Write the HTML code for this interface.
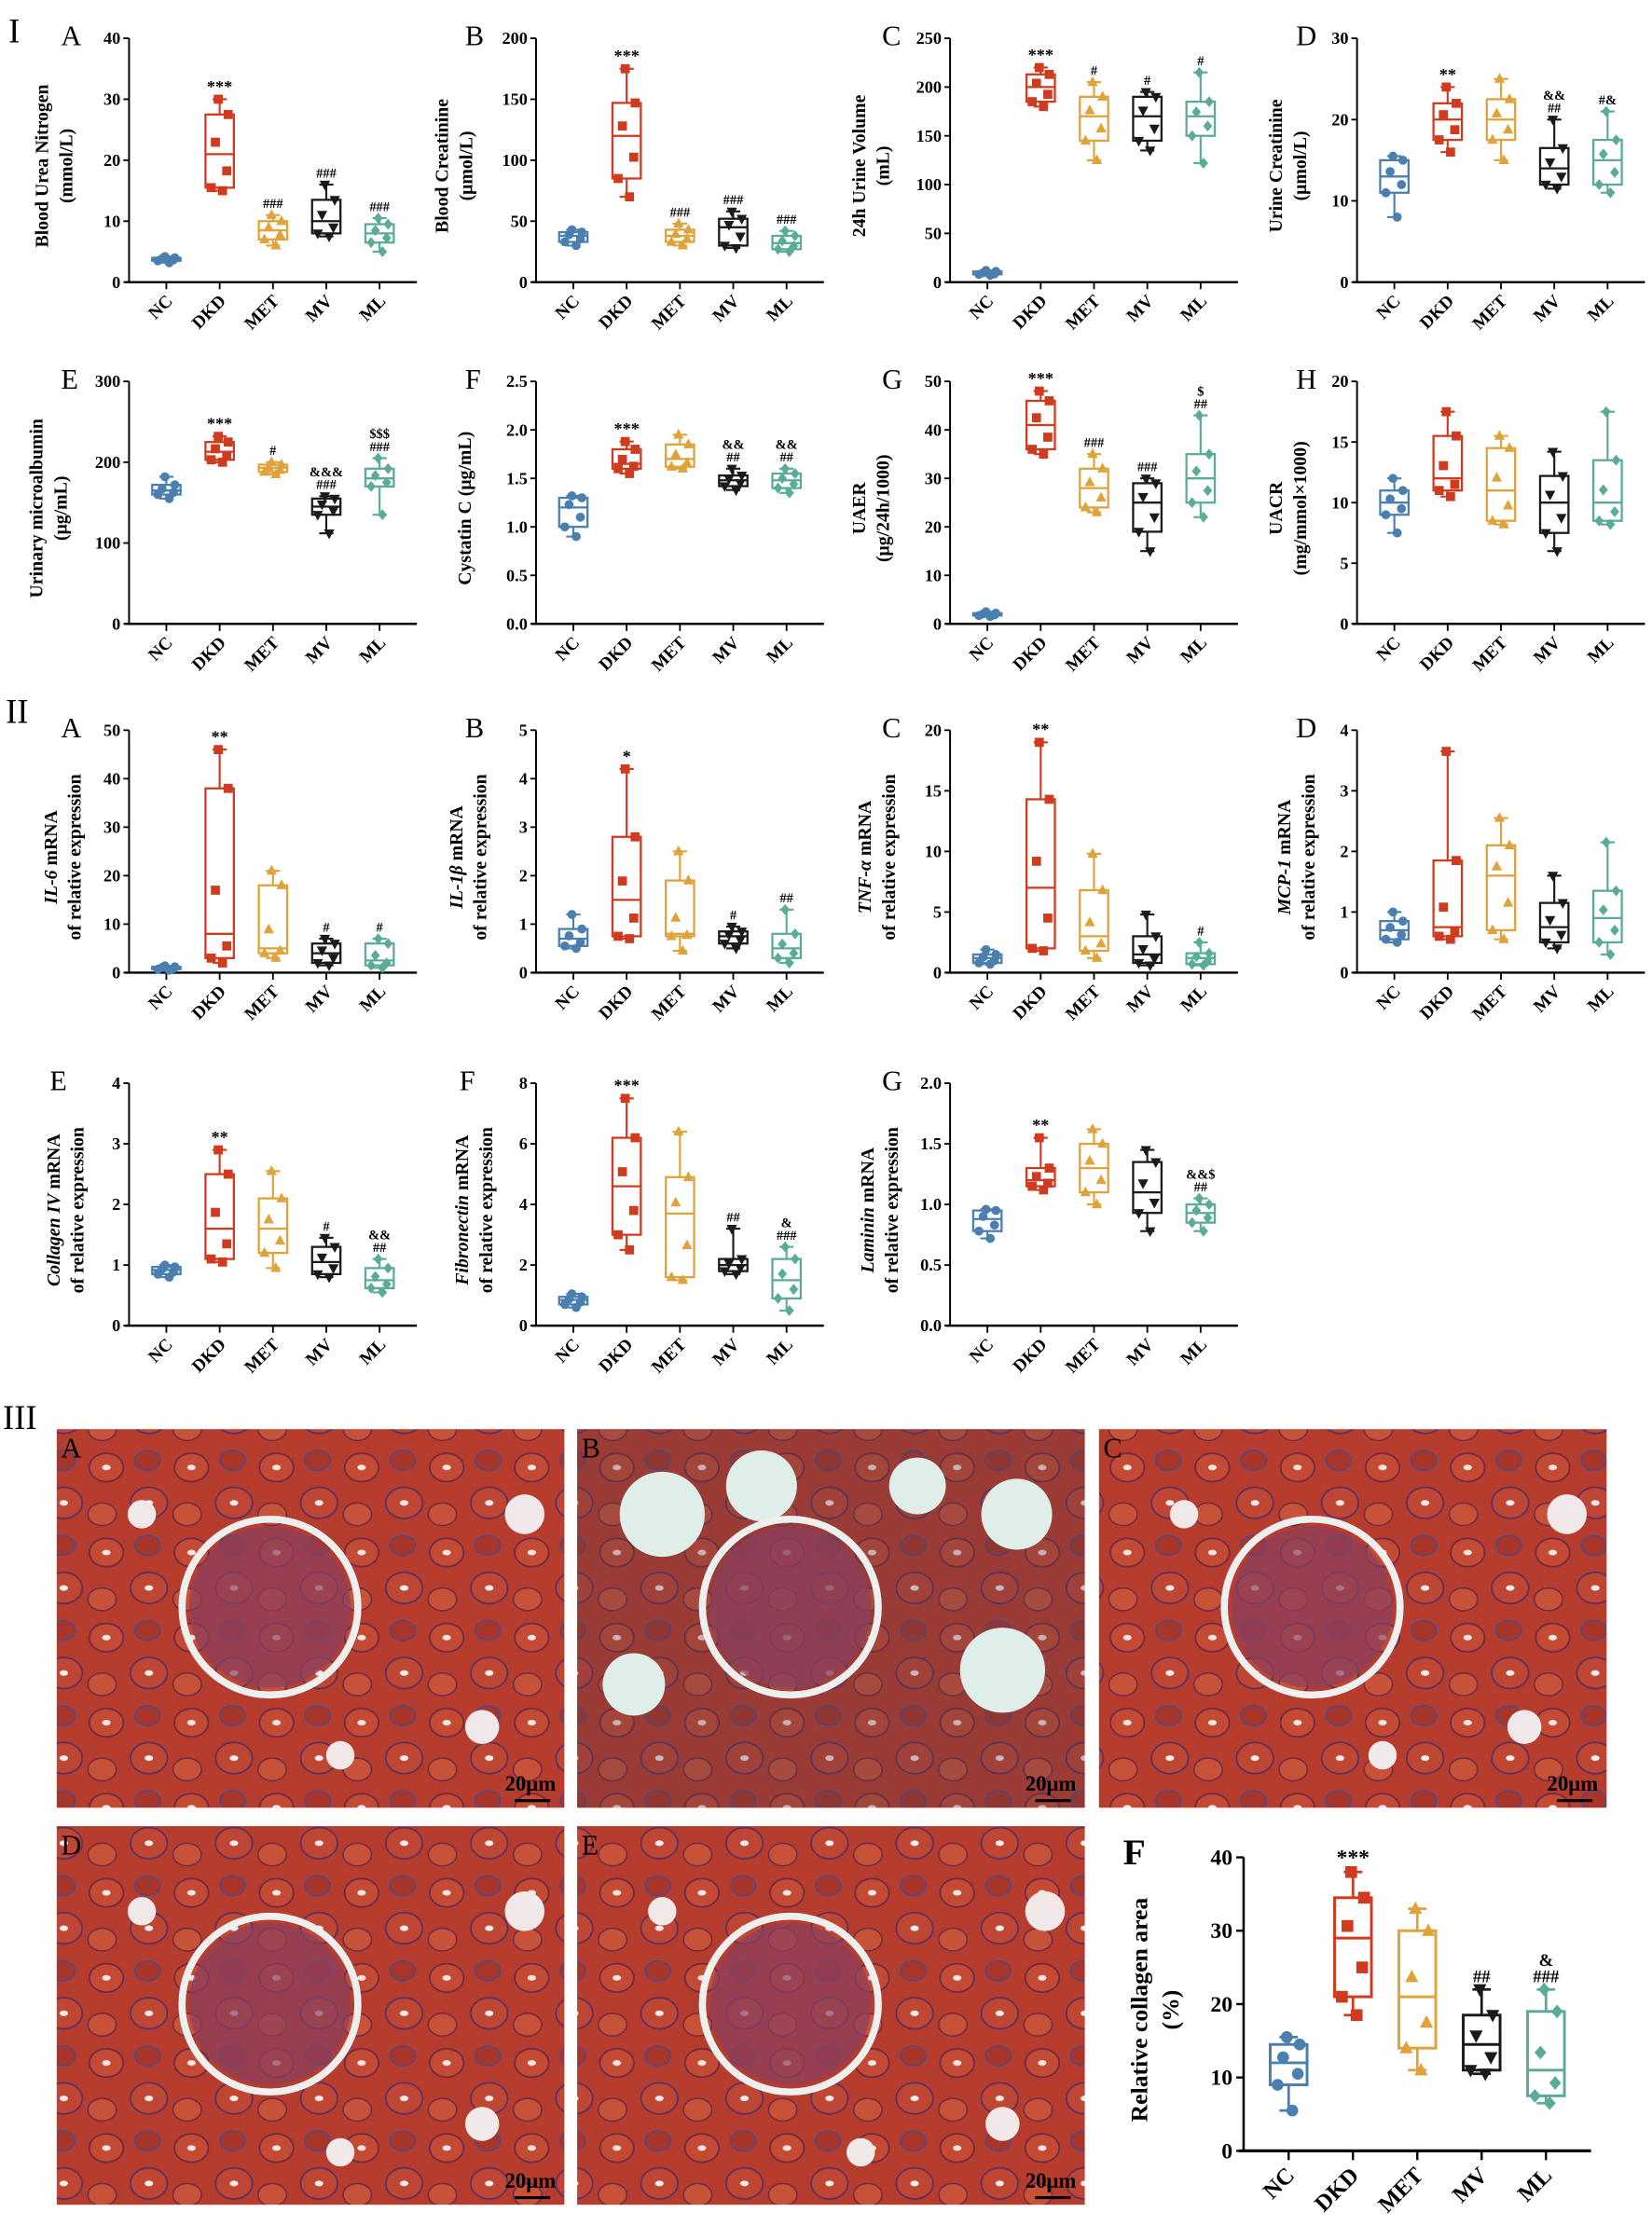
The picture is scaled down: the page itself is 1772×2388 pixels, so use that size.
<!DOCTYPE html>
<html><head><meta charset="utf-8"><style>
html,body{margin:0;padding:0;background:#fff;}
svg{display:block;}
text{font-family:"Liberation Serif",serif;}
</style></head><body>
<svg id="s" xmlns="http://www.w3.org/2000/svg" width="1772" height="2388" viewBox="0 0 1165 1570">
<defs>
<pattern id="tis" width="60" height="60" patternUnits="userSpaceOnUse">
<rect width="60" height="60" fill="#b63c2e"/>
<ellipse cx="15" cy="15" rx="12" ry="10" fill="#c44a34" stroke="#6a2a48" stroke-width="1.2"/>
<ellipse cx="15" cy="15" rx="3" ry="2" fill="#f2e6e6"/>
<ellipse cx="45" cy="40" rx="13" ry="11" fill="#c04634" stroke="#5a3060" stroke-width="1.2"/>
<ellipse cx="45" cy="40" rx="3" ry="2" fill="#f5eeee"/>
<ellipse cx="44" cy="10" rx="9" ry="7" fill="#a8352a" stroke="#4a4a8a" stroke-width="1"/>
<ellipse cx="12" cy="48" rx="10" ry="8" fill="#c85238" stroke="#6a2a48" stroke-width="1"/>
</pattern>
</defs>
</svg>
<script>
const S=document.getElementById('s');const NS='http://www.w3.org/2000/svg';
function el(t,a,txt){const e=document.createElementNS(NS,t);for(const k in a)e.setAttribute(k,a[k]);if(txt!==undefined)e.textContent=txt;S.appendChild(e);return e;}
const C=['#4a7fb0','#d03a1e','#e0a23a','#1a1a1a','#5aab98'];
const G=['NC','DKD','MET','MV','ML'];
function marker(i,x,y,r){const c=C[i];
 if(i==0)el('circle',{cx:x,cy:y,r:r,fill:c});
 else if(i==1)el('rect',{x:x-r,y:y-r,width:2*r,height:2*r,fill:c});
 else if(i==2)el('polygon',{points:`${x},${y-r-1} ${x-r-0.5},${y+r-0.5} ${x+r+0.5},${y+r-0.5}`,fill:c});
 else if(i==3)el('polygon',{points:`${x},${y+r+1} ${x-r-0.5},${y-r+0.5} ${x+r+0.5},${y-r+0.5}`,fill:c});
 else el('polygon',{points:`${x},${y-r-0.7} ${x+r},${y} ${x},${y+r+0.7} ${x-r},${y}`,fill:c});}
function plot(o){
 const {ax,top,bot,ymax,ticks,fmt,data,ann,letter,lx,lab1,lab2,labx,w}=o;
 const big=o.big||1;
 const W=w||203;const Y=v=>bot-(v/ymax)*(bot-top);
 el('line',{x1:ax,y1:top,x2:ax,y2:bot,stroke:'#000','stroke-width':1.3*big});
 el('line',{x1:ax-3,y1:bot,x2:ax+W,y2:bot,stroke:'#000','stroke-width':1.6*big});
 ticks.forEach(t=>{const y=Y(t);el('line',{x1:ax-4*big,y1:y,x2:ax,y2:y,stroke:'#000','stroke-width':1.2*big});
  el('text',{x:ax-6*big,y:y+4*big,'font-size':12*big,'font-weight':'bold','text-anchor':'end'},fmt?fmt(t):t);});
 const sp=W/5.4;
 data.forEach((d,i)=>{const x=ax+sp*(i+0.7);const c=C[i];const bw=10*big;
  el('line',{x1:x,y1:bot,x2:x,y2:bot+5*big,stroke:'#000','stroke-width':1.2*big});
  el('line',{x1:x,y1:Y(d[0]),x2:x,y2:Y(d[4]),stroke:c,'stroke-width':1.4*big});
  [0,4].forEach(k=>el('line',{x1:x-5*big,y1:Y(d[k]),x2:x+5*big,y2:Y(d[k]),stroke:c,'stroke-width':1.4*big}));
  el('rect',{x:x-bw,y:Y(d[3]),width:2*bw,height:Y(d[1])-Y(d[3]),fill:'#fff',stroke:c,'stroke-width':1.5*big});
  el('line',{x1:x-bw,y1:Y(d[2]),x2:x+bw,y2:Y(d[2]),stroke:c,'stroke-width':1.5*big});
  const pts=[[d[0],2],[d[1],-6],[(d[1]+d[2])/2,5],[d[2]+(d[3]-d[2])*0.3,-3],[d[3],6],[d[4],-1]];
  pts.forEach(p=>marker(i,x+p[1]*big,Y(p[0]),3.2*big));
  const a=ann[i];if(a){const ls=a.split('/');let yy=Y(d[4])-5;
   for(let j=ls.length-1;j>=0;j--){el('text',{x:x,y:yy,'font-size':(ls[j].startsWith('*')?12:9.5)*big,'text-anchor':'middle','font-weight':'bold',fill:'#000'},ls[j]);yy-=9*big;}}
  const ty=bot+14*big;
  el('text',{x:x+5,y:ty,'font-size':12.5*big,'font-weight':'bold','text-anchor':'end',transform:`rotate(-45 ${x+5} ${ty})`},G[i]);
 });
 el('text',{x:lx,y:top+5,'font-size':20*big,'font-weight':big>1?'bold':'normal'},letter);
 const mid=(top+bot)/2+4;
 const l1=el('text',{x:labx,y:mid,'font-size':13*big,'font-weight':'bold','text-anchor':'middle',transform:`rotate(-90 ${labx} ${mid})`});l1.innerHTML=lab1;
 if(lab2){const x2=labx+17*big;const l2=el('text',{x:x2,y:mid,'font-size':13*big,'font-weight':'bold','text-anchor':'middle',transform:`rotate(-90 ${x2} ${mid})`});l2.innerHTML=lab2;}
}
const r=(a,b,s)=>{const o=[];for(let v=a;v<=b+1e-9;v+=s)o.push(+v.toFixed(2));return o;};
const f1=t=>t.toFixed(1);
const AX=[91,378,670,957],LX=[43,328,622,914],LB=[34,316,610,904];
plot({ax:AX[0],top:27,bot:199,ymax:40,ticks:r(0,40,10),letter:'A',lx:LX[0],labx:LB[0],lab1:'Blood Urea Nitrogen',lab2:'(mmol/L)',
 data:[[3.2,3.5,3.8,4,4.2],[15,15.5,21,27.5,30],[6,7,8.5,10,11],[7.5,8,10,13.5,16],[5,6.5,8,9.5,10.5]],ann:['','***','###','###','###']});
plot({ax:AX[1],top:27,bot:199,ymax:200,ticks:r(0,200,50),letter:'B',lx:LX[1],labx:LB[1],lab1:'Blood Creatinine',lab2:'(μmol/L)',
 data:[[30,33,38,41,43],[70,85,120,147,175],[30,33,38,43,48],[28,30,45,52,58],[25,27,32,38,42]],ann:['','***','###','###','###']});
plot({ax:AX[2],top:27,bot:199,ymax:250,ticks:r(0,250,50),letter:'C',lx:LX[2],labx:LB[2],lab1:'24h Urine Volume',lab2:'(mL)',
 data:[[7,8,9,11,12],[180,185,200,213,220],[125,145,170,190,205],[135,145,170,190,195],[122,150,170,185,215]],ann:['','***','#','#','#']});
plot({ax:AX[3],top:27,bot:199,ymax:30,ticks:r(0,30,10),letter:'D',lx:LX[3],labx:LB[3],lab1:'Urine Creatinine',lab2:'(μmol/L)',
 data:[[8,11,13,15,15.5],[16,17.5,20,22,24],[15,17.5,20,22.5,25],[11.5,12,14,16.5,20],[11,12,15,17.5,21]],ann:['','**','','&&/##','#&']});
plot({ax:AX[0],top:269,bot:440,ymax:300,ticks:r(0,300,100),letter:'E',lx:LX[0],labx:30,lab1:'Urinary microalbumin',lab2:'(μg/mL)',
 data:[[155,160,165,172,182],[200,203,213,225,232],[185,188,193,197,200],[112,135,145,155,158],[135,170,180,192,205]],ann:['','***','#','&&&/###','$$$/###']});
plot({ax:AX[1],top:269,bot:440,ymax:2.5,ticks:r(0,2.5,0.5),fmt:f1,letter:'F',lx:LX[1],labx:332,lab1:'Cystatin C (μg/mL)',
 data:[[0.9,1.0,1.2,1.3,1.32],[1.55,1.6,1.65,1.8,1.88],[1.6,1.62,1.7,1.85,1.95],[1.38,1.42,1.48,1.53,1.6],[1.35,1.4,1.48,1.55,1.6]],ann:['','***','','&&/##','&&/##']});
plot({ax:AX[2],top:269,bot:440,ymax:50,ticks:r(0,50,10),letter:'G',lx:LX[2],labx:LB[2],lab1:'UAER',lab2:'(μg/24h/1000)',
 data:[[1.5,1.7,2,2.2,2.5],[35,36,41,46,48],[23,24,28,32,35],[15,19,25,29,30],[22,25,30,35,43]],ann:['','***','###','###','$/##']});
plot({ax:AX[3],top:269,bot:440,ymax:20,ticks:r(0,20,5),letter:'H',lx:LX[3],labx:LB[3],lab1:'UACR',lab2:'(mg/mmol×1000)',
 data:[[7.5,9,10,11,12],[10.5,11,12,15.5,17.5],[8.2,8.5,11,14.5,15.5],[6,7.5,10,12.2,14.2],[8.2,8.5,10,13.5,17.5]],ann:['','','','','']});
const rel='of relative expression';
plot({ax:AX[0],top:515,bot:686,ymax:50,ticks:r(0,50,10),letter:'A',lx:LX[0],labx:40,lab1:'<tspan font-style="italic">IL-6</tspan> mRNA',lab2:rel,
 data:[[0.5,0.7,1,1.2,1.4],[2,3,8,38,46],[3,4,5,18,21],[1.5,2,4,6,7],[1,1.5,2.5,6,7]],ann:['','**','','#','#']});
plot({ax:AX[1],top:515,bot:686,ymax:5,ticks:r(0,5,1),letter:'B',lx:LX[1],labx:LB[1]+10,lab1:'<tspan font-style="italic">IL-1β</tspan> mRNA',lab2:rel,
 data:[[0.5,0.55,0.7,0.9,1.2],[0.7,0.75,1.5,2.8,4.2],[0.45,0.75,0.8,1.9,2.5],[0.5,0.6,0.75,0.85,0.95],[0.2,0.3,0.5,0.8,1.3]],ann:['','*','','#','##']});
plot({ax:AX[2],top:515,bot:686,ymax:20,ticks:r(0,20,5),letter:'C',lx:LX[2],labx:LB[2]+4,lab1:'<tspan font-style="italic">TNF-α</tspan> mRNA',lab2:rel,
 data:[[0.7,0.8,1.2,1.5,1.9],[1.8,2,7,14.3,19],[1.2,1.8,3,6.8,9.8],[0.6,0.8,1.5,3,4.8],[0.6,0.7,1.2,1.6,2.5]],ann:['','**','','','#']});
plot({ax:AX[3],top:515,bot:686,ymax:4,ticks:r(0,4,1),letter:'D',lx:LX[3],labx:LB[3]+6,lab1:'<tspan font-style="italic">MCP-1</tspan> mRNA',lab2:rel,
 data:[[0.5,0.55,0.7,0.85,1],[0.55,0.6,0.75,1.85,3.65],[0.55,0.7,1.6,2.1,2.55],[0.4,0.5,0.75,1.15,1.6],[0.3,0.5,0.9,1.35,2.15]],ann:['','','','','']});
plot({ax:AX[0],top:764,bot:935,ymax:4,ticks:r(0,4,1),letter:'E',lx:LX[0]-8,labx:42,lab1:'<tspan font-style="italic">Collagen IV</tspan> mRNA',lab2:rel,
 data:[[0.8,0.85,0.92,0.97,1],[1.05,1.1,1.6,2.5,2.9],[0.95,1.2,1.6,2.1,2.55],[0.8,0.85,1.05,1.3,1.45],[0.55,0.62,0.75,0.95,1.1]],ann:['','**','','#','&&/##']});
plot({ax:AX[1],top:764,bot:935,ymax:8,ticks:r(0,8,2),letter:'F',lx:LX[1]-4,labx:LB[1]+14,lab1:'<tspan font-style="italic">Fibronectin</tspan> mRNA',lab2:rel,
 data:[[0.6,0.7,0.85,0.95,1.05],[2.5,3,4.6,6.2,7.5],[1.5,1.6,3.7,4.9,6.4],[1.7,1.8,2,2.2,3.2],[0.5,0.9,1.5,2.2,2.6]],ann:['','***','','##','&/###']});
plot({ax:AX[2],top:764,bot:935,ymax:2,ticks:r(0,2,0.5),fmt:f1,letter:'G',lx:LX[2],labx:LB[2]+6,lab1:'<tspan font-style="italic">Laminin</tspan> mRNA',lab2:rel,
 data:[[0.72,0.78,0.88,0.95,0.96],[1.12,1.15,1.2,1.3,1.55],[1.0,1.1,1.3,1.5,1.62],[0.78,0.93,1.1,1.35,1.45],[0.78,0.85,0.93,1.0,1.05]],ann:['','**','','','&&$/##']});
plot({ax:877,top:1310,bot:1517,ymax:40,ticks:r(0,40,10),letter:'F',lx:792,labx:809,lab1:'Relative collagen area',lab2:'(%)',w:245,big:1.3,
 data:[[5.5,9,12,14.5,15.5],[18.5,21,29,34.5,38],[11,14,21,30,33],[10.5,11,14.5,18.5,22],[6.5,7.5,11,19,22]],ann:['','***','','##','&/###']});
el('text',{x:6,y:30,'font-size':24},'I');
el('text',{x:4,y:510,'font-size':24},'II');
el('text',{x:2,y:1008,'font-size':24},'III');
const imgs=[[40,1008,'A',0],[407,1008,'B',1],[775,1008,'C',0],[40,1288,'D',0],[407,1288,'E',0]];
imgs.forEach(([x,y,L,b])=>{const w=358,h=267;
 el('rect',{x:x,y:y,width:w,height:h,fill:'url(#tis)'});
 if(b){el('rect',{x:x,y:y,width:w,height:h,fill:'#5a3a4a',opacity:0.3});
  [[60,60,30],[130,40,25],[300,170,30],[40,180,22],[240,40,20],[310,60,25]].forEach(c=>el('circle',{cx:x+c[0],cy:y+c[1],r:c[2],fill:'#dfeee8'}));}
 else{[[330,60,14],[300,210,12],[60,60,10],[200,230,10]].forEach(c=>el('circle',{cx:x+c[0],cy:y+c[1],r:c[2],fill:'#f1e8ea'}));}
 el('circle',{cx:x+w*0.42,cy:y+h*0.47,r:62,fill:'none',stroke:'#eef0f0','stroke-width':5});
 el('circle',{cx:x+w*0.42,cy:y+h*0.47,r:57,fill:'#8a4060',opacity:0.7});
 el('text',{x:x+w-42,y:y+h-12,'font-size':15,'font-weight':'bold'},'20μm');
 el('line',{x1:x+w-35,y1:y+h-5,x2:x+w-10,y2:y+h-5,stroke:'#000','stroke-width':2});
 el('text',{x:x+3,y:y+20,'font-size':20},L);
});
</script>
</body></html>
